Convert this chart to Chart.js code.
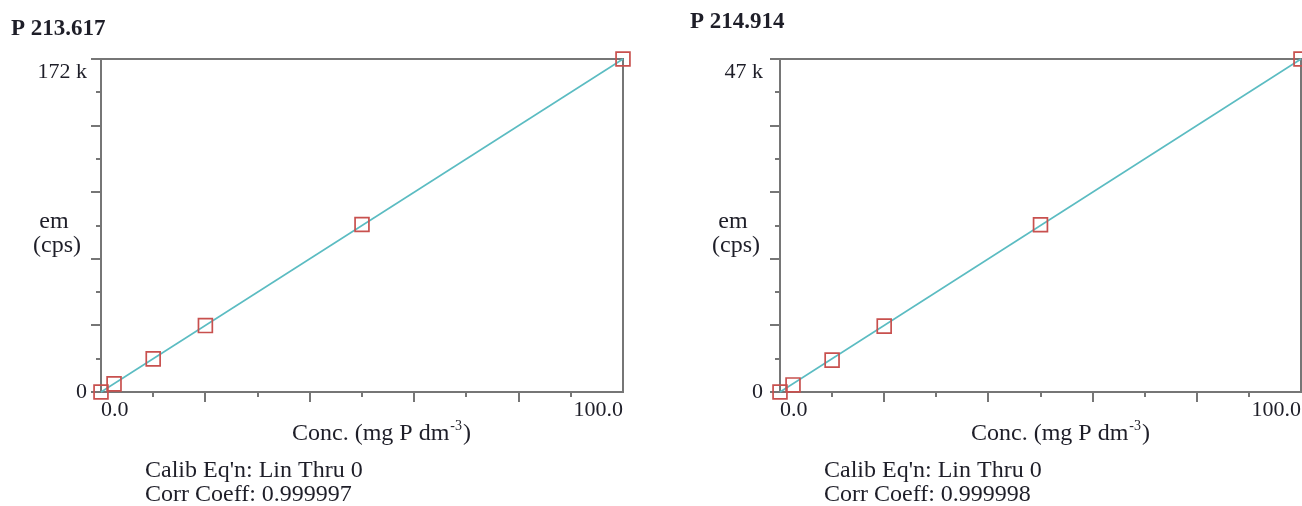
<!DOCTYPE html>
<html>
<head>
<meta charset="utf-8">
<script src="https://cdn.jsdelivr.net/npm/chart.js@4/dist/chart.umd.min.js"></script>
<style>
  html, body { margin: 0; padding: 0; background: #ffffff; }
  #wrap { position: relative; width: 1302px; height: 506px; overflow: hidden; }
  canvas { position: absolute; left: 0; top: 0; }
</style>
</head>
<body>
<div id="wrap">
  <canvas id="c1" width="1302" height="506"></canvas>
  <canvas id="c2" width="1302" height="506"></canvas>
</div>
<script>
// ---- data ----
const conc = [0, 2.5, 10, 20, 50, 100];                    // mg P dm-3 standards
const emP213 = [0, 4200, 17100, 34300, 86500, 172000];      // cps, P 213.617
const emP214 = [0, 1000, 4500, 9300, 23600, 47000];         // cps, P 214.914
const fitConc = [0, 100];                                   // calibration line ends
const fitP213 = [0, 172000];
const fitP214 = [0, 47000];
const xTickLabels = ['0.0', '100.0'];
const yTickLabelsP213 = ['0', '172 k'];
const yTickLabelsP214 = ['0', '47 k'];
const titles = ['P 213.617', 'P 214.914'];
const calibEqn = ["Calib Eq'n: Lin Thru 0", "Calib Eq'n: Lin Thru 0"];
const corrCoeff = ['Corr Coeff: 0.999997', 'Corr Coeff: 0.999998'];

// ---- styles ----
const SERIF = "'Liberation Serif', 'Times New Roman', serif";
const AXIS = '#767676';
const TEXT = '#1e1e28';
const TEAL = '#5bbcc2';
const RED = '#c8504e';

function pts(xs, ys) { return xs.map((x, i) => ({ x: x, y: ys[i] })); }

const extras = {
  id: 'extras',
  beforeDatasetsDraw(chart, args, o) {
    const { ctx, chartArea: a } = chart;
    const xs = chart.scales.x, ys = chart.scales.y;
    ctx.save();
    ctx.strokeStyle = AXIS;
    ctx.lineWidth = 2;
    ctx.beginPath();
    ctx.moveTo(a.left, a.top); ctx.lineTo(a.right, a.top); ctx.lineTo(a.right, a.bottom);
    ctx.stroke();
    ctx.beginPath();
    xs.ticks.forEach((t, i) => {
      if (i === 0 || i === xs.ticks.length - 1) return;
      const px = Math.round(xs.getPixelForValue(t.value));
      const len = i % 2 === 0 ? 10 : 5;
      ctx.moveTo(px, a.bottom); ctx.lineTo(px, a.bottom + len);
    });
    ys.ticks.forEach((t, i) => {
      const py = Math.round(ys.getPixelForValue(t.value));
      const len = i % 2 === 0 ? 10 : 5;
      ctx.moveTo(a.left, py); ctx.lineTo(a.left - len, py);
    });
    ctx.stroke();
    ctx.restore();
  },
  afterDraw(chart, args, o) {
    const { ctx, chartArea: a } = chart;
    ctx.save();
    ctx.fillStyle = TEXT;
    ctx.textBaseline = 'alphabetic';
    // title
    ctx.font = 'bold 23px ' + SERIF;
    ctx.textAlign = 'left';
    ctx.fillText(o.title, o.titleX, o.titleY);
    // y-axis title
    ctx.font = '24px ' + SERIF;
    ctx.textAlign = 'center';
    ctx.fillText('em', a.left - 47, 228);
    ctx.fillText('(cps)', a.left - 44, 252);
    // x-axis title with superscript
    ctx.textAlign = 'left';
    let x = a.left + 191;
    const base = 440;
    const s1 = 'Conc. (mg P dm';
    ctx.fillText(s1, x, base);
    x += ctx.measureText(s1).width;
    ctx.font = '14px ' + SERIF;
    ctx.fillText('-3', x + 1, base - 10);
    x += ctx.measureText('-3').width + 2;
    ctx.font = '24px ' + SERIF;
    ctx.fillText(')', x, base);
    // calibration info
    ctx.fillText(o.calib, a.left + 44, 477);
    ctx.fillText(o.corr, a.left + 44, 501);
    ctx.restore();
  }
};

function makeChart(id, em, fit, yMax, yLabels, left, right, yPad, idx, titleY) {
  const yFont = { family: SERIF, size: 22 };
  const xFont = { family: SERIF, size: 22, lineHeight: 1.62 };
  return new Chart(document.getElementById(id), {
    type: 'scatter',
    data: {
      datasets: [
        {
          data: pts(conc, em),
          pointStyle: 'rect',
          pointRadius: 9.8,
          pointHoverRadius: 9.8,
          pointBorderWidth: 1.7,
          pointBorderColor: RED,
          pointBackgroundColor: 'rgba(0,0,0,0)',
          showLine: false,
          clip: false,
          order: 1
        },
        {
          data: pts(fitConc, fit),
          showLine: true,
          borderColor: TEAL,
          borderWidth: 1.6,
          pointRadius: 0,
          clip: false,
          order: 2
        }
      ]
    },
    options: {
      responsive: false,
      animation: false,
      devicePixelRatio: 1,
      events: [],
      layout: { autoPadding: false, padding: { left: 0, top: 59, right: 1302 - right, bottom: 0 } },
      plugins: {
        legend: { display: false },
        tooltip: { enabled: false },
        extras: { title: titles[idx], titleX: idx === 0 ? 11 : 690, titleY: titleY, calib: calibEqn[idx], corr: corrCoeff[idx] }
      },
      scales: {
        x: {
          type: 'linear', position: 'bottom', min: 0, max: 100,
          grid: { display: false, drawTicks: false, drawOnChartArea: false },
          border: { display: true, color: AXIS, width: 2 },
          ticks: {
            stepSize: 10, autoSkip: false, maxRotation: 0, minRotation: 0,
            align: 'inner', padding: 0, font: xFont, color: TEXT,
            callback: (v, i, ticks) => i === 0 ? xTickLabels[0] : (i === ticks.length - 1 ? xTickLabels[1] : '')
          },
          afterFit: s => { s.height = 506 - 392; s.paddingLeft = 0; s.paddingRight = 0; }
        },
        y: {
          type: 'linear', position: 'left', min: 0, max: yMax,
          grid: { display: false, drawTicks: false, drawOnChartArea: false },
          border: { display: true, color: AXIS, width: 2 },
          ticks: {
            stepSize: yMax / 10, autoSkip: false, padding: yPad, font: yFont, color: TEXT,
            callback: (v, i, ticks) => i === 0 ? yLabels[0] : (i === ticks.length - 1 ? ['', yLabels[1]] : '')
          },
          afterFit: s => { s.width = left; s.paddingTop = 0; s.paddingBottom = 0; }
        }
      }
    },
    plugins: [extras]
  });
}

makeChart('c1', emP213, fitP213, 172000, yTickLabelsP213, 101, 623, 14, 0, 35);
makeChart('c2', emP214, fitP214, 47000, yTickLabelsP214, 780, 1301, 17, 1, 28);
</script>
</body>
</html>
